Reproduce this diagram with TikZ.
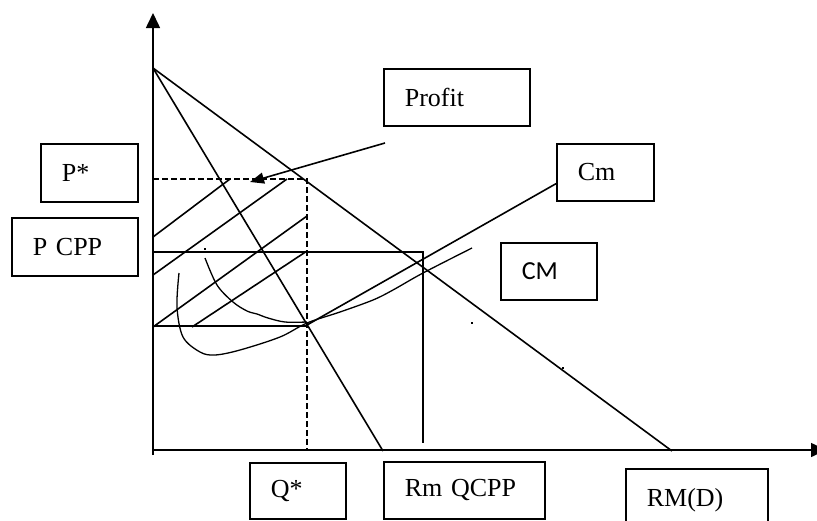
\documentclass[tikz,border=0pt]{standalone}
\usepackage{fontspec}
\setmainfont{Liberation Serif}
\newfontfamily\calibrifont{Carlito}
\usetikzlibrary{arrows.meta,positioning}

\begin{document}
\begin{tikzpicture}[
  x=1pt, y=-1pt,
  font=\fontsize{26}{31}\selectfont,
  line width=1.6pt,
  lbl/.style={
    draw, line width=1.6pt, anchor=north west, align=left,
    inner xsep=21pt, inner ysep=0pt},
  axis/.style={-{Triangle[length=15pt,width=14pt]}},
  guide/.style={dash pattern=on 6pt off 3pt},
  curve/.style={line width=1.3pt, smooth, tension=0.55},
  arr/.style={-{Triangle[length=14pt,width=11pt]}}
]
\useasboundingbox (0,0) rectangle (817,520);

% axes
\coordinate (O) at (153,450);
\draw[axis] (153,455) -- (153,13);
\draw[axis] (O) -- (826,450);

% demand and marginal revenue
\coordinate (A) at (153,68);
\coordinate (D) at (672,451);
\coordinate (R) at (383,451);
\coordinate (E) at (307,325);
\draw (A) -- (D);
\draw (A) -- (R);

% monopoly price and quantity
\draw[guide] (153,179) -- (307,179) -- (307,450);
% competitive price and quantity
\draw (153,252) -- (423,252) -- (423,443);
\draw (153,326) -- (307,326);

% profit hatching
\foreach \a/\b in {{153,237}/{230,179}, {153,275}/{287,179}, {153,327}/{307,216}, {192,327}/{307,251}}
  \draw (\a) -- (\b);

% average cost curves (hand drawn)
\draw[curve] plot coordinates {(179,273) (177,307) (183,337) (200,352) (215,355)
  (240,350) (280,337) (307,323) (340,312) (373,300) (393,290) (423,273) (472,248)};
\draw[curve] plot coordinates {(205,258) (217,285) (233,302) (247,311) (257,314)
  (268,318) (285,322) (307,322)};
\foreach \p in {(205,249), (472,323), (563,368)}
  \fill \p ++(-1.2,-1.2) rectangle ++(2.4,2.4);

% labels
\node[lbl, text width=104pt, minimum height=57pt] (profit) at (383,68) {Profit};
\node[lbl, text width=55pt, minimum height=58pt] (pstar) at (40,143) {P*};
\node[lbl, text width=84pt, minimum height=58pt] (pcpp) at (11,217) {P CPP};
\node[lbl, text width=55pt, minimum height=57pt] (cm) at (556,143) {Cm};
\node[lbl, text width=54pt, minimum height=57pt, font=\calibrifont\fontsize{26}{31}\selectfont] (ac) at (500,242) {CM};
\node[lbl, text width=54pt, minimum height=56pt] (qstar) at (249,462) {Q*};
\node[lbl, text width=119pt, minimum height=57pt] (rmq) at (383,461) {Rm QCPP};
\node[lbl, text width=100pt, minimum height=62pt] (rmd) at (625,468) {RM(D)};

% connectors
\coordinate (pfrom) at (385,143);
\coordinate (pto) at (250,182);
\draw[arr] (pfrom) -- (pto);
\draw (E) -- (cm.193);

\end{tikzpicture}
\end{document}
